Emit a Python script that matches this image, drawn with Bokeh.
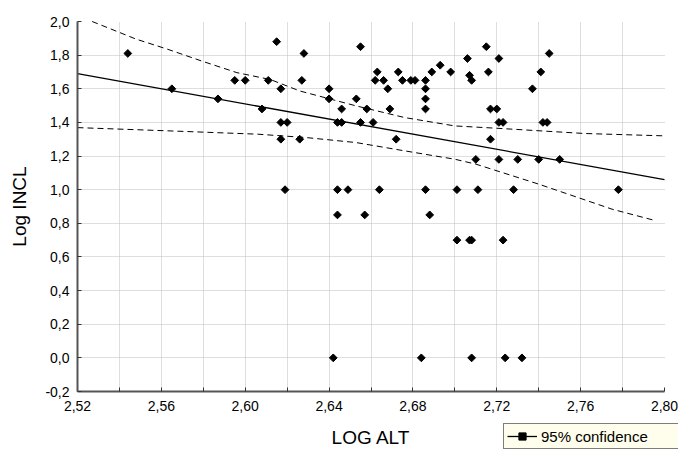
from bokeh.plotting import figure
from bokeh.models import (FixedTicker, CustomJSTickFormatter, Legend, LegendItem,
                          Range1d, ColumnDataSource)
from bokeh.embed import file_html
from bokeh.resources import INLINE

# ---- data ----
LOG_ALT = [2.544, 2.628, 2.745,
           2.615,
           2.655, 2.715,
           2.706, 2.721,
           2.693,
           2.663, 2.673, 2.689, 2.698, 2.716, 2.741,
           2.707,
           2.595, 2.600, 2.611, 2.627, 2.662, 2.666, 2.675, 2.679, 2.681, 2.686, 2.708,
           2.565, 2.617, 2.640, 2.668, 2.686, 2.737,
           2.587, 2.640, 2.653, 2.686,
           2.608, 2.646, 2.658, 2.669, 2.686, 2.717, 2.720,
           2.617, 2.620, 2.644, 2.646, 2.655, 2.661, 2.721, 2.723, 2.742, 2.744,
           2.617, 2.626, 2.672, 2.717,
           2.710, 2.721, 2.730, 2.740, 2.750,
           2.619, 2.644, 2.649, 2.664, 2.686, 2.701, 2.711, 2.728, 2.778,
           2.644, 2.657, 2.688,
           2.701, 2.707, 2.708, 2.723,
           2.642, 2.684, 2.708, 2.724, 2.732]
LOG_INCL = [1.81, 1.81, 1.81,
            1.88,
            1.85, 1.85,
            1.78, 1.78,
            1.74,
            1.70, 1.70, 1.70, 1.70, 1.70, 1.70,
            1.68,
            1.65, 1.65, 1.65, 1.65, 1.65, 1.65, 1.65, 1.65, 1.65, 1.65, 1.65,
            1.60, 1.60, 1.60, 1.60, 1.60, 1.60,
            1.54, 1.54, 1.54, 1.54,
            1.48, 1.48, 1.48, 1.48, 1.48, 1.48, 1.48,
            1.40, 1.40, 1.40, 1.40, 1.40, 1.40, 1.40, 1.40, 1.40, 1.40,
            1.30, 1.30, 1.30, 1.30,
            1.18, 1.18, 1.18, 1.18, 1.18,
            1.00, 1.00, 1.00, 1.00, 1.00, 1.00, 1.00, 1.00, 1.00,
            0.85, 0.85, 0.85,
            0.70, 0.70, 0.70, 0.70,
            0.00, 0.00, 0.00, 0.00, 0.00]

FIT_X = [2.52, 2.80]
FIT_Y = [1.69, 1.06]

UPPER_X = [2.527, 2.548, 2.563, 2.579, 2.596, 2.612, 2.626, 2.653, 2.676, 2.700, 2.719, 2.762, 2.800]
UPPER_Y = [2.000, 1.895, 1.835, 1.766, 1.696, 1.655, 1.587, 1.498, 1.429, 1.379, 1.366, 1.334, 1.320]

LOWER_X = [2.520, 2.563, 2.606, 2.629, 2.653, 2.676, 2.700, 2.710, 2.740, 2.775, 2.796]
LOWER_Y = [1.369, 1.350, 1.330, 1.310, 1.280, 1.231, 1.181, 1.152, 1.033, 0.884, 0.815]

X_MIN, X_MAX = 2.52, 2.80
Y_MIN, Y_MAX = -0.2, 2.0
X_TICKS = [2.52, 2.56, 2.60, 2.64, 2.68, 2.72, 2.76, 2.80]
X_MINOR = [2.54, 2.58, 2.62, 2.66, 2.70, 2.74, 2.78]
Y_TICKS = [-0.2, 0.0, 0.2, 0.4, 0.6, 0.8, 1.0, 1.2, 1.4, 1.6, 1.8, 2.0]
X_GRID = [2.54, 2.56, 2.58, 2.60, 2.62, 2.64, 2.66, 2.68, 2.70, 2.72, 2.74, 2.76, 2.78]
Y_GRID = [0.0, 0.2, 0.4, 0.6, 0.8, 1.0, 1.2, 1.4, 1.6, 1.8]

X_LABEL = "LOG ALT"
Y_LABEL = "Log INCL"
LEGEND_LABEL = "95% confidence"

FONT = "Liberation Sans"
W, H = 678, 450
# pixel placement of the data area inside the canvas
AREA_LEFT, AREA_RIGHT, AREA_TOP, AREA_BOTTOM = 77, 664, 21, 391
PX_X = (AREA_RIGHT - AREA_LEFT) / (X_MAX - X_MIN)
PX_Y = (AREA_BOTTOM - AREA_TOP) / (Y_MAX - Y_MIN)

# the frame covers the whole canvas; axes are pinned to the data area's edges
x_start = X_MIN - AREA_LEFT / PX_X
x_end = X_MAX + (W - AREA_RIGHT) / PX_X
y_start = Y_MIN - (H - AREA_BOTTOM) / PX_Y
y_end = Y_MAX + AREA_TOP / PX_Y

p = figure(width=W, height=H, output_backend="svg", toolbar_location=None,
           x_range=Range1d(x_start, x_end), y_range=Range1d(y_start, y_end),
           min_border_left=0, min_border_right=0, min_border_top=0,
           min_border_bottom=0)
p.outline_line_color = None
p.background_fill_color = "white"
p.border_fill_color = "white"

# grids, limited to the data area
p.xgrid.ticker = FixedTicker(ticks=X_GRID)
p.ygrid.ticker = FixedTicker(ticks=Y_GRID)
manual_grid = False
try:
    p.xgrid.cross_bounds = (Y_MIN, Y_MAX)
    p.ygrid.cross_bounds = (X_MIN, X_MAX)
except AttributeError:
    manual_grid = True
GRID_STYLE = dict(line_color="#BDBDBD", line_dash="1 1", line_width=1)
if manual_grid:
    p.xgrid.visible = False
    p.ygrid.visible = False
    p.segment(x0=X_GRID, y0=[Y_MIN] * len(X_GRID), x1=X_GRID, y1=[Y_MAX] * len(X_GRID), **GRID_STYLE)
    p.segment(x0=[X_MIN] * len(Y_GRID), y0=Y_GRID, x1=[X_MAX] * len(Y_GRID), y1=Y_GRID, **GRID_STYLE)
else:
    for g in (p.xgrid, p.ygrid):
        g.grid_line_color = GRID_STYLE["line_color"]
        g.grid_line_dash = GRID_STYLE["line_dash"]
        g.grid_line_width = 1

# axes pinned at the data area's edges
p.xaxis.fixed_location = Y_MIN
p.yaxis.fixed_location = X_MIN
p.xaxis.bounds = (X_MIN, X_MAX)
p.yaxis.bounds = (Y_MIN, Y_MAX)
p.xaxis.ticker = FixedTicker(ticks=X_TICKS, minor_ticks=X_MINOR)
p.yaxis.ticker = FixedTicker(ticks=Y_TICKS)
p.xaxis.formatter = CustomJSTickFormatter(code="return tick.toFixed(2).replace('.', ',');")
p.yaxis.formatter = CustomJSTickFormatter(code="return tick.toFixed(1).replace('.', ',');")
for ax in (p.xaxis, p.yaxis):
    ax.axis_line_color = "#555555"
    ax.axis_line_width = 2
    ax.major_tick_line_color = "#333333"
    ax.minor_tick_line_color = "#333333"
    ax.major_tick_in = 4
    ax.major_tick_out = 0
    ax.minor_tick_in = 4
    ax.minor_tick_out = 0
    ax.major_label_text_font = FONT
    ax.major_label_text_font_size = "14px"
    ax.major_label_text_color = "black"
    ax.axis_label_text_font = FONT
    ax.axis_label_text_font_size = "19px"
    ax.axis_label_text_font_style = "normal"
    ax.axis_label_text_color = "black"
p.yaxis.minor_tick_in = 0
p.xaxis.major_label_standoff = 9
p.yaxis.major_label_standoff = 8
p.xaxis.axis_label = X_LABEL
p.yaxis.axis_label = Y_LABEL
p.xaxis.axis_label_standoff = 13
p.yaxis.axis_label_standoff = 12

# confidence bands and fit
p.line(UPPER_X, UPPER_Y, line_color="black", line_width=1, line_dash="6 4")
p.line(LOWER_X, LOWER_Y, line_color="black", line_width=1, line_dash="6 4")
fit = p.line(FIT_X, FIT_Y, line_color="black", line_width=1.3)

src = ColumnDataSource(dict(x=LOG_ALT, y=LOG_INCL))
pts = p.scatter("x", "y", source=src, marker="square", angle=0.785398, size=5.5,
                fill_color="black", line_color="black", line_width=1)

legend = Legend(items=[LegendItem(label=LEGEND_LABEL, renderers=[fit, pts])],
                location=(503, 1), orientation="vertical",
                border_line_color="black", border_line_width=1,
                background_fill_color="#FFFDEB", background_fill_alpha=1,
                label_text_font=FONT, label_text_font_size="15px",
                label_text_color="black",
                padding=3, margin=0, spacing=0,
                glyph_width=30, glyph_height=18, label_height=18,
                label_standoff=4, label_width=134)
p.add_layout(legend, "center")

open("out.html", "w").write(file_html(p, INLINE))
